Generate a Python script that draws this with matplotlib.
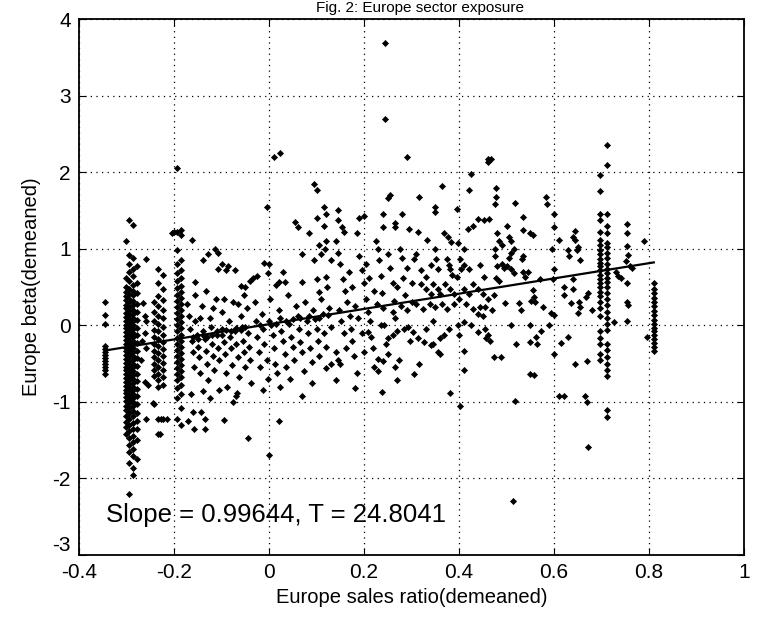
import numpy as np
import matplotlib.pyplot as plt

plt.rcParams['font.family'] = ['Liberation Sans', 'DejaVu Sans']
plt.rcParams['axes.unicode_minus'] = False

# --- values -------------------------------------------------------------
title_text = 'Fig. 2: Europe sector exposure'
x_label = 'Europe sales ratio(demeaned)'
y_label = 'Europe beta(demeaned)'
note_text = 'Slope = 0.99644, T = 24.8041'

x_ticks = [-0.4, -0.2, 0, 0.2, 0.4, 0.6, 0.8, 1]
x_tick_labels = ['-0.4', '-0.2', '0', '0.2', '0.4', '0.6', '0.8', '1']
y_ticks = [-3, -2, -1, 0, 1, 2, 3, 4]

# fitted line
slope = 0.99644
intercept = 0.015
line_x = [-0.345, 0.81]

# vertical stacks of firms sharing (almost) the same sales ratio
far_left_x = -0.345
far_left_y = [0.30, 0.14, 0.02, -0.27, -0.31, -0.35, -0.39, -0.43, -0.47,
              -0.51, -0.55, -0.59, -0.63]

dense_x = [-0.302, -0.294, -0.286, -0.279]
dense_y = [
    [1.10, 0.62, 0.50, 0.44, 0.38, 0.33, 0.27, 0.22, 0.16, 0.11, 0.06, 0.01,
     -0.04, -0.09, -0.14, -0.19, -0.24, -0.29, -0.34, -0.39, -0.44, -0.49,
     -0.54, -0.59, -0.64, -0.69, -0.74, -0.79, -0.84, -0.89, -0.94, -0.99,
     -1.05, -1.11, -1.18, -1.26, -1.33, -1.42],
    [1.38, 0.92, 0.80, 0.70, 0.58, 0.47, 0.41, 0.35, 0.30, 0.24, 0.19, 0.13,
     0.08, 0.03, -0.02, -0.07, -0.12, -0.17, -0.22, -0.27, -0.32, -0.37,
     -0.42, -0.47, -0.52, -0.57, -0.62, -0.67, -0.72, -0.77, -0.82, -0.87,
     -0.92, -0.97, -1.02, -1.08, -1.15, -1.22, -1.30, -1.38, -1.47, -1.56,
     -1.66, -1.80, -2.20],
    [1.31, 0.88, 0.74, 0.64, 0.53, 0.45, 0.39, 0.32, 0.26, 0.20, 0.15, 0.10,
     0.05, 0.00, -0.05, -0.10, -0.15, -0.20, -0.25, -0.30, -0.35, -0.40,
     -0.45, -0.50, -0.55, -0.60, -0.65, -0.70, -0.75, -0.80, -0.85, -0.90,
     -0.95, -1.00, -1.06, -1.12, -1.19, -1.27, -1.35, -1.44, -1.52, -1.61,
     -1.71, -1.86, -1.95],
    [0.78, 0.55, 0.42, 0.28, 0.17, 0.07, -0.03, -0.13, -0.23, -0.33, -0.43,
     -0.53, -0.63, -0.73, -0.83, -0.93, -1.03, -1.14, -1.25, -1.36, -1.50,
     -1.75],
]

col3_x = [-0.243, -0.233, -0.223]
col3_y = [
    [0.30, 0.18, 0.05, -0.06, -0.15, -0.24, -0.33, -0.41, -0.50, -0.58,
     -0.66, -1.03],
    [0.73, 0.55, 0.38, 0.25, 0.12, 0.02, -0.08, -0.18, -0.27, -0.36, -0.45,
     -0.54, -0.63, -0.72, -0.80, -1.22, -1.42],
    [0.66, 0.48, 0.33, 0.20, 0.09, -0.02, -0.12, -0.22, -0.31, -0.40, -0.49,
     -0.58, -0.68, -0.78, -1.22],
]

col4_x = [-0.193, -0.185]
col4_y = [
    [2.05, 1.22, 0.98, 0.80, 0.68, 0.58, 0.49, 0.40, 0.32, 0.24, 0.16, 0.08,
     0.00, -0.08, -0.16, -0.24, -0.32, -0.40, -0.48, -0.56, -0.64, -0.72,
     -0.82, -0.95, -1.23],
    [1.25, 1.18, 0.86, 0.72, 0.62, 0.52, 0.44, 0.36, 0.28, 0.20, 0.12, 0.04,
     -0.04, -0.12, -0.20, -0.28, -0.36, -0.44, -0.52, -0.60, -0.68, -0.78,
     -0.90, -1.08, -1.30],
]

right_x = [0.697, 0.712]
right_y = [
    [1.97, 1.76, 1.45, 1.38, 1.22, 1.12, 1.05, 0.99, 0.93, 0.87, 0.82, 0.77,
     0.72, 0.66, 0.60, 0.55, 0.50, 0.44, 0.38, 0.30, 0.22, 0.12, -0.07,
     -0.17, -0.25, -0.37, -0.45],
    [2.35, 2.10, 1.45, 1.30, 1.20, 1.08, 1.02, 0.95, 0.88, 0.80, 0.74, 0.68,
     0.62, 0.56, 0.50, 0.42, 0.34, 0.26, 0.18, 0.10, 0.02, -0.06, -0.25,
     -0.32, -0.42, -0.50, -0.58, -0.66, -1.10, -1.20],
]

edge_x = 0.81
edge_y = [0.55, 0.48, 0.42, 0.36, 0.30, 0.25, 0.19, 0.13, 0.07, 0.02, -0.03,
          -0.08, -0.13, -0.18, -0.23, -0.28, -0.34]

# scattered firms
scatter_left = [
    (-0.259, 0.87), (-0.265, 0.29), (-0.262, 0.12), (-0.26, 0.05),
    (-0.262, -0.1), (-0.258, -0.3), (-0.262, -0.74), (-0.255, -0.78),
    (-0.258, -1.22), (-0.244, -1.02), (-0.228, -1.23), (-0.215, -1.23),
    (-0.23, -1.42), (-0.27, -0.45), (-0.268, -0.2), (-0.205, 1.2),
    (-0.2, 1.22),
    (-0.17, -1.25), (-0.16, -1.13), (-0.143, -1.13), (-0.135, -1.22),
    (-0.158, -1.35), (-0.135, -1.35), (-0.095, -1.24), (-0.044, -1.47),
    (-0.075, -1.0), (-0.07, -0.93), (-0.068, -0.88), (-0.14, -0.86),
    (-0.125, -0.95), (-0.105, -0.85), (-0.165, -0.9),
    (-0.162, 1.12), (-0.155, 0.57), (-0.14, 0.86), (-0.128, 0.93),
    (-0.114, 1.0), (-0.108, 0.95), (-0.107, 0.74), (-0.086, 0.78),
    (-0.072, 0.72), (-0.06, 0.52), (-0.05, 0.50), (-0.04, 0.58),
    (-0.034, 0.62), (-0.025, 0.65), (-0.133, 0.45), (-0.1, 0.8),
    (-0.09, 0.72),
    (-0.172, 0.28), (-0.168, 0.12), (-0.166, -0.05), (-0.163, -0.2),
    (-0.16, -0.35), (-0.158, -0.55), (-0.155, 0.05), (-0.152, -0.12),
    (-0.15, -0.28), (-0.148, -0.42), (-0.145, -0.62), (-0.142, 0.25),
    (-0.138, -0.08), (-0.135, -0.18), (-0.132, -0.33), (-0.13, -0.5),
    (-0.128, -0.72), (-0.125, 0.1), (-0.122, -0.02), (-0.12, -0.25),
    (-0.117, -0.4), (-0.115, -0.58), (-0.112, 0.35), (-0.11, -0.12),
    (-0.107, -0.3), (-0.105, -0.45), (-0.1, 0.18), (-0.098, -0.05),
    (-0.095, -0.22), (-0.093, -0.38), (-0.09, -0.62), (-0.088, -0.8),
    (-0.085, 0.05), (-0.082, -0.15), (-0.08, -0.3), (-0.077, -0.52),
    (-0.075, 0.3), (-0.072, -0.08), (-0.07, -0.25), (-0.066, -0.42),
    (-0.063, -0.68), (-0.06, 0.12), (-0.057, -0.02), (-0.055, -0.2),
    (-0.052, -0.35), (-0.05, -0.55), (-0.047, 0.22), (-0.045, -0.1),
    (-0.042, -0.28), (-0.04, -0.45), (-0.037, -0.75),
    (-0.16, -0.15), (-0.15, -0.18), (-0.14, -0.12), (-0.13, -0.15),
    (-0.12, -0.12), (-0.11, -0.08), (-0.1, -0.12), (-0.09, -0.06),
    (-0.08, -0.08), (-0.07, -0.04), (-0.06, -0.06), (-0.05, -0.02),
    (-0.155, 0.4), (-0.145, 0.1), (-0.118, 0.22), (-0.095, 0.35),
    (-0.065, 0.28), (-0.052, 0.4),
]

scatter_mid_a = [
    (0.01, 2.2), (0.023, 2.25), (0.095, 1.85), (0.1, 1.77), (-0.005, 1.54),
    (0.115, 1.54), (0.12, 1.45), (0.055, 1.35), (0.06, 1.28), (0.1, 1.4),
    (0.115, 1.3), (0.105, 1.05), (0.12, 1.1), (0.117, 1.0), (0.07, 0.93),
    (0.095, 0.85), (0.11, 0.93), (-0.01, 0.82), (0.0, 0.8), (-0.003, 0.69),
    (0.03, 0.7), (0.02, 0.56), (0.034, 0.56), (0.014, 0.53), (0.07, 0.56),
    (0.1, 0.6), (0.12, 0.63), (0.105, 0.43), (0.085, 1.2), (0.13, 0.85),
    (-0.03, 0.3), (-0.028, 0.05), (-0.025, -0.15), (-0.022, -0.35),
    (-0.02, -0.55), (-0.015, 0.15), (-0.012, -0.05), (-0.01, -0.25),
    (-0.005, -0.45), (-0.002, -0.7), (0.002, 0.35), (0.005, 0.0),
    (0.008, -0.12), (0.01, -0.3), (0.013, -0.5), (0.016, -0.62),
    (0.02, 0.2), (0.023, 0.1), (0.026, -0.08), (0.03, -0.2), (0.033, -0.38),
    (0.036, -0.55), (0.04, 0.4), (0.043, 0.02), (0.046, -0.15),
    (0.05, -0.28), (0.053, -0.45), (0.056, 0.25), (0.06, 0.12),
    (0.063, -0.05), (0.066, -0.22), (0.07, -0.35), (0.073, -0.6),
    (0.076, 0.3), (0.08, 0.05), (0.083, -0.1), (0.086, -0.3), (0.09, -0.48),
    (0.093, 0.2), (0.096, 0.08), (0.1, -0.05), (0.103, -0.2), (0.106, -0.4),
    (0.11, 0.35), (0.113, 0.15), (0.116, -0.1), (0.12, -0.28), (0.123, 0.5),
    (0.126, 0.22), (0.13, -0.02),
    (0.0, -1.7), (0.02, -1.25), (-0.013, -0.85), (0.023, -0.8),
    (0.07, -0.92), (0.12, -0.56), (0.13, -0.5), (0.045, -0.7), (0.09, -0.75),
    (-0.02, 0.0), (0.0, 0.05), (0.015, 0.02), (0.035, 0.05), (0.05, 0.08),
    (0.065, 0.1), (0.085, 0.12), (0.105, 0.1), (0.125, 0.14),
]

scatter_mid_b = [
    (0.244, 3.69), (0.244, 2.7), (0.29, 2.2), (0.255, 1.7), (0.25, 1.67),
    (0.24, 1.46), (0.28, 1.46), (0.145, 1.51), (0.145, 1.38), (0.154, 1.29),
    (0.158, 1.22), (0.19, 1.4), (0.2, 1.43), (0.24, 1.29), (0.265, 1.34),
    (0.265, 1.28), (0.295, 1.26),
    (0.14, 1.1), (0.145, 0.95), (0.15, 0.8), (0.155, 0.6), (0.16, 0.45),
    (0.165, 0.3), (0.17, 0.12), (0.172, -0.05), (0.175, -0.2),
    (0.178, -0.4), (0.185, 1.2), (0.19, 0.9), (0.195, 0.72), (0.2, 0.55),
    (0.205, 0.35), (0.208, 0.18), (0.212, 0.05), (0.215, -0.15),
    (0.218, -0.3), (0.22, -0.55), (0.225, 1.1), (0.23, 1.0), (0.232, 0.85),
    (0.235, 0.65), (0.238, 0.42), (0.24, 0.22), (0.243, 0.0),
    (0.246, -0.25), (0.238, -0.87), (0.23, -0.44), (0.25, -0.37),
    (0.27, -0.71), (0.25, 0.93), (0.255, 0.75), (0.26, 0.55),
    (0.263, 0.32), (0.266, 0.1), (0.27, -0.08), (0.273, -0.45),
    (0.276, 1.0), (0.28, 0.88), (0.283, 0.62), (0.286, 0.4), (0.29, 0.2),
    (0.293, -0.02), (0.296, -0.2), (0.208, -0.09), (0.236, 0.01),
    (0.25, -0.16), (0.261, -0.13), (0.285, -0.05), (0.24, -0.46),
    (0.148, 0.2), (0.152, 0.05), (0.158, -0.1), (0.162, -0.3),
    (0.168, 0.7), (0.175, 0.5), (0.182, 0.25), (0.188, 0.1), (0.195, -0.1),
    (0.2, -0.35), (0.205, 0.8), (0.21, 0.62), (0.22, 0.45), (0.228, 0.28),
    (0.26, 0.18), (0.27, 0.5), (0.278, 0.25), (0.29, 0.75), (0.3, 0.55),
    (0.3, 0.3), (0.15, -0.5), (0.185, -0.62), (0.265, -0.55), (0.23, -0.6),
    (0.14, -0.35), (0.145, -0.45), (0.14, -0.72), (0.18, -0.82),
]

scatter_mid_c = [
    (0.425, 1.98), (0.42, 1.77), (0.365, 1.82), (0.315, 1.68), (0.35, 1.55),
    (0.35, 1.48), (0.395, 1.52), (0.46, 2.13), (0.314, 1.22), (0.333, 1.12),
    (0.369, 1.2), (0.376, 1.16), (0.383, 1.09), (0.398, 1.07), (0.41, 1.0),
    (0.419, 1.26), (0.44, 1.39), (0.453, 1.37), (0.463, 1.39), (0.43, 1.3),
    (0.305, 0.87), (0.31, 0.93), (0.32, 0.72), (0.33, 0.63), (0.34, 0.79),
    (0.35, 1.0), (0.352, 0.87), (0.355, 0.74), (0.375, 0.87), (0.378, 0.79),
    (0.38, 0.74), (0.385, 0.66), (0.395, 0.63), (0.402, 0.87),
    (0.405, 0.74), (0.41, 0.79), (0.42, 0.74), (0.445, 0.79), (0.452, 0.63),
    (0.32, 0.54), (0.33, 0.47), (0.34, 0.41), (0.345, 0.54), (0.355, 0.47),
    (0.36, 0.41), (0.37, 0.54), (0.38, 0.47), (0.39, 0.41), (0.4, 0.34),
    (0.41, 0.47), (0.42, 0.41), (0.43, 0.54), (0.44, 0.47), (0.45, 0.41),
    (0.46, 0.34),
    (0.31, 0.28), (0.325, 0.21), (0.338, 0.28), (0.35, 0.24), (0.365, 0.28),
    (0.375, 0.21), (0.39, 0.28), (0.415, 0.28), (0.43, 0.21), (0.445, 0.24),
    (0.303, -0.09), (0.314, -0.16), (0.326, -0.22), (0.341, -0.26),
    (0.356, -0.35), (0.36, -0.16), (0.369, -0.13), (0.379, -0.05),
    (0.398, 0.01), (0.41, 0.04), (0.425, 0.01), (0.44, -0.09),
    (0.457, -0.16), (0.41, -0.33), (0.41, -0.58), (0.316, -0.51),
    (0.305, -0.63), (0.345, -0.25), (0.36, -0.38), (0.38, -0.88),
    (0.402, -1.05), (0.40, -0.12), (0.33, -0.05), (0.345, 0.05),
]

scatter_right = [
    (0.462, 2.17), (0.468, 2.17), (0.477, 1.79), (0.477, 1.68),
    (0.476, 1.59), (0.517, 1.6), (0.583, 1.68), (0.585, 1.58),
    (0.535, 1.42), (0.535, 1.25), (0.6, 1.45), (0.6, 1.28),
    (0.48, 1.2), (0.485, 1.1), (0.49, 1.05), (0.475, 1.0), (0.5, 1.3),
    (0.505, 1.15), (0.51, 1.1), (0.515, 1.0), (0.51, 0.95), (0.505, 0.88),
    (0.535, 0.9), (0.532, 0.87), (0.55, 1.2), (0.555, 1.18), (0.61, 1.12),
    (0.595, 1.0), (0.64, 1.15), (0.645, 1.23), (0.645, 1.12), (0.65, 1.02),
    (0.648, 0.99), (0.63, 0.98), (0.632, 0.91), (0.655, 0.85),
    (0.475, 0.9), (0.48, 0.78), (0.49, 0.8), (0.495, 0.75), (0.478, 0.62),
    (0.485, 0.58), (0.5, 0.78), (0.51, 0.73), (0.515, 0.68), (0.535, 0.7),
    (0.538, 0.63), (0.545, 0.7), (0.57, 0.6), (0.6, 0.73), (0.598, 0.6),
    (0.62, 0.5), (0.64, 0.48), (0.64, 0.6),
    (0.473, 0.39), (0.496, 0.29), (0.454, 0.24), (0.527, 0.29), (0.53, 0.2),
    (0.556, 0.46), (0.558, 0.37), (0.56, 0.3), (0.552, 0.32), (0.577, 0.24),
    (0.594, 0.16), (0.6, 0.13), (0.62, 0.39), (0.635, 0.29), (0.652, 0.3),
    (0.654, 0.24), (0.667, 0.37), (0.671, 0.42), (0.68, 0.2), (0.65, 0.16),
    (0.44, 0.15), (0.45, 0.12), (0.47, 0.2), (0.51, 0.0), (0.55, 0.0),
    (0.59, 0.0), (0.455, -0.05), (0.462, -0.12), (0.466, -0.2),
    (0.52, -0.24), (0.55, -0.22), (0.565, -0.25), (0.562, -0.15),
    (0.572, -0.08), (0.615, -0.23), (0.63, -0.15), (0.6, -0.37),
    (0.473, -0.42), (0.488, -0.42), (0.55, -0.64), (0.645, -0.5),
    (0.67, -0.47),
    (0.517, -0.99), (0.61, -0.93), (0.62, -0.93), (0.665, -0.93),
    (0.67, -1.0), (0.672, -1.59), (0.513, -2.3), (0.558, -0.65),
    (0.754, 1.33), (0.754, 1.21), (0.754, 1.04), (0.755, 0.92),
    (0.752, 0.84), (0.76, 0.78), (0.765, 0.75), (0.754, 0.55),
    (0.754, 0.3), (0.756, 0.27), (0.754, 0.05), (0.726, 0.04), (0.79, 1.1),
    (0.795, -0.15), (0.73, 0.7), (0.735, 0.65), (0.74, 0.62),
]


def stack(x, ys):
    return [(x, y) for y in ys]


points = stack(far_left_x, far_left_y) + stack(edge_x, edge_y)
for xs, yss in [(dense_x, dense_y), (col3_x, col3_y),
                (col4_x, col4_y), (right_x, right_y)]:
    for x, ys in zip(xs, yss):
        points += stack(x, ys)
points += scatter_left + scatter_mid_a + scatter_mid_b + scatter_mid_c
points += scatter_right
points = np.array(points)

# --- figure ---------------------------------------------------------------
fig = plt.figure(figsize=(7.57, 6.2), dpi=100)
ax = fig.add_axes([0.1044, 0.105, 0.8785, 0.864])

ax.plot(points[:, 0], points[:, 1], linestyle='none', marker='D',
        markersize=3.1, color='black', markeredgewidth=0.5)

lx = np.array(line_x)
ax.plot(lx, slope * lx + intercept, color='black', linewidth=1.6)

ax.set_xlim(-0.4, 1)
ax.set_ylim(-3, 4)
ax.set_xticks(x_ticks)
ax.set_xticklabels(x_tick_labels)
ax.set_yticks(y_ticks)
ax.grid(True, color='black', linestyle=(0, (1, 3.5)), linewidth=0.9)
ax.tick_params(direction='in', top=True, right=True, length=5,
               labelsize=15, pad=6)
for s in ax.spines.values():
    s.set_linewidth(1.3)

# MATLAB stacks the lowest y label just above the first x label
ax.get_yticklabels()[0].set_va('bottom')

ax.set_xlabel(x_label, fontsize=14.5, labelpad=4)
ax.set_ylabel(y_label, fontsize=14.5, labelpad=8)
ax.text(-0.343, -2.48, note_text, fontsize=18.5, va='center', ha='left')
fig.text(0.555, 0.999, title_text, fontsize=11, ha='center', va='top')

fig.savefig('out.png', dpi=100)
